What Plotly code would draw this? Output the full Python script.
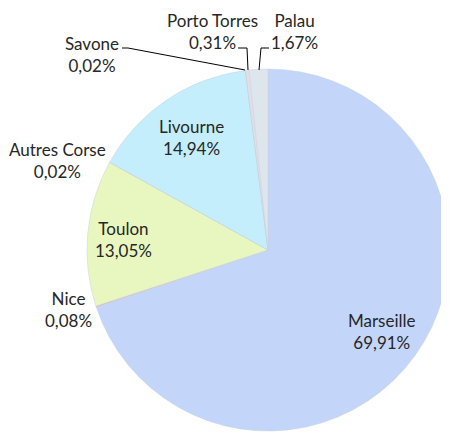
import plotly.graph_objects as go

labels = ["Marseille", "Nice", "Toulon", "Autres Corse", "Livourne", "Savone", "Porto Torres", "Palau"]
values = [69.91, 0.08, 13.05, 0.02, 14.94, 0.02, 0.31, 1.67]
colors = ["#c3d6f9", "#f0a8a0", "#e8f7c0", "#e0e0e0", "#c4eefc", "#d8d8d8", "#e4dfe6", "#dde6ec"]

# the page body has an 8px margin, so the figure is drawn offset by 8px
OFF = 8
W, H = 449 - OFF, 434 - OFF
cx, cy, r = 268, 250, 181

# label positions in window pixels (centre of the two-line block)
label_pos = {
    "Marseille": (382, 331),
    "Nice": (68, 309),
    "Toulon": (123, 239),
    "Autres Corse": (57, 161),
    "Livourne": (191, 138),
    "Savone": (92, 54),
    "Porto Torres": (212, 31),
    "Palau": (294, 31),
}

# leader lines in window pixels
leaders = {
    "Savone": [(122, 48), (128, 48), (245, 70)],
    "Porto Torres": [(238, 48), (247, 48), (248, 70)],
    "Palau": [(269, 48), (261, 48), (259, 70)],
}

def px(x):
    return (x - OFF) / W

def py(y):
    return 1 - (y - OFF) / H

fig = go.Figure(go.Pie(
    labels=labels,
    values=values,
    sort=False,
    direction="clockwise",
    rotation=0,
    textinfo="none",
    marker=dict(colors=colors, line=dict(color="rgba(200,208,220,0.8)", width=0.6)),
    domain=dict(x=[px(cx - r), min(1, px(cx + r))], y=[max(0, py(cy + r)), py(cy - r)]),
    showlegend=False,
))

annotations = []
for lab, val in zip(labels, values):
    x, y = label_pos[lab]
    txt = f"{lab}<br>{val:.2f}%".replace(".", ",")
    annotations.append(dict(
        x=px(x), y=py(y), xref="paper", yref="paper",
        text=txt, showarrow=False, xanchor="center", yanchor="middle",
        font=dict(family="Lato", size=17, color="#262626"),
    ))

shapes = []
for lab, pts in leaders.items():
    path = "M " + " L ".join(f"{px(a)},{py(b)}" for a, b in pts)
    shapes.append(dict(type="path", path=path, xref="paper", yref="paper",
                       line=dict(color="black", width=1)))

fig.update_layout(
    width=W, height=H,
    margin=dict(l=0, r=0, t=0, b=0),
    paper_bgcolor="white",
    plot_bgcolor="white",
    annotations=annotations,
    shapes=shapes,
)

fig.write_html("out.html")
